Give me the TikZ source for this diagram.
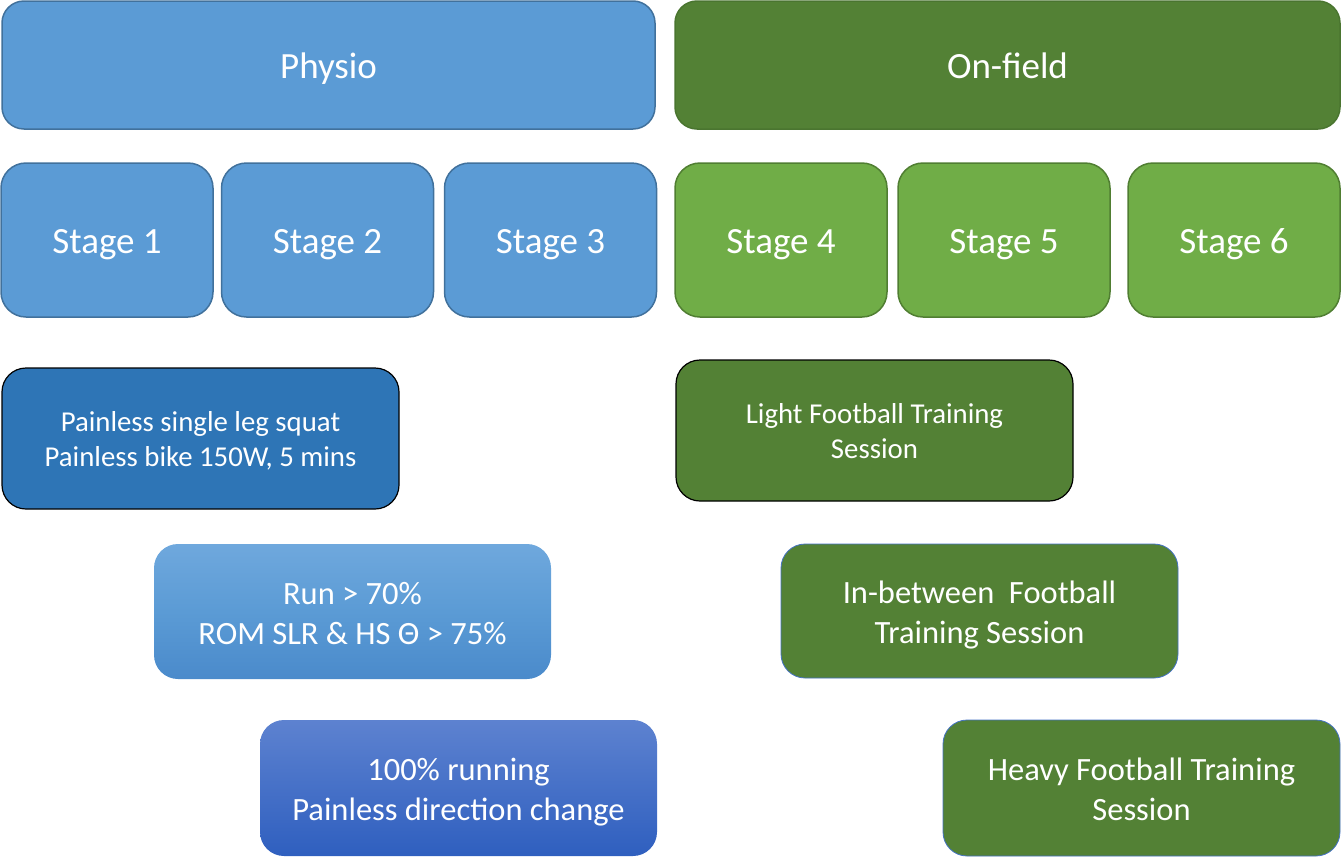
\documentclass[tikz,border=0pt]{standalone}
\usepackage{fontspec}
\setmainfont{Carlito}
\definecolor{physfill}{HTML}{5B9BD5}
\definecolor{physline}{HTML}{41719C}
\definecolor{darkgreen}{HTML}{538135}
\definecolor{darkgreenline}{HTML}{4A7530}
\definecolor{stgreen}{HTML}{70AD47}
\definecolor{stgreenline}{HTML}{507E32}
\definecolor{midblue}{HTML}{2E75B6}
\definecolor{runtop}{HTML}{6FA8DD}
\definecolor{runmid}{HTML}{5B9BD5}
\definecolor{runbot}{HTML}{4A8ACB}
\definecolor{hutop}{HTML}{5D82D0}
\definecolor{hubot}{HTML}{2F5FBF}
\definecolor{thinblue}{HTML}{4472C4}
\tikzset{
  box/.style={rectangle, rounded corners=22pt, text=white, inner sep=0pt, align=center},
  big/.style={font=\fontsize{37}{45}\selectfont, text height=27pt, text depth=0pt},
  small/.style={font=\fontsize{28.8}{35.5}\selectfont, text height=56pt, text depth=0pt},
  med/.style={font=\fontsize{32.5}{40}\selectfont, text height=65pt, text depth=0pt},
  header/.style={box, big, minimum height=128pt, line width=1.5pt},
  stagebox/.style={box, big, minimum width=212pt, minimum height=154pt, rounded corners=25pt, line width=1.5pt},
  crit/.style={box, minimum width=397pt, rounded corners=24pt},
}
\begin{document}
\begin{tikzpicture}[x=1pt,y=-1pt]
\useasboundingbox (0,0) rectangle (1341,857);
% headers
\node[header, fill=physfill, draw=physline, minimum width=653pt] (physio) at (328.5,65) {Physio};
\node[header, fill=darkgreen, draw=darkgreenline, minimum width=665pt] (onfield) at (1007.5,65) {On-field};
% stages
\node[stagebox, fill=physfill, draw=physline] (s1) at (107,240) {Stage 1};
\node[stagebox, fill=physfill, draw=physline] (s2) at (327.5,240) {Stage 2};
\node[stagebox, fill=physfill, draw=physline] (s3) at (550.5,240) {Stage 3};
\node[stagebox, fill=stgreen, draw=stgreenline] (s4) at (781,240) {Stage 4};
\node[stagebox, fill=stgreen, draw=stgreenline] (s5) at (1004,240) {Stage 5};
\node[stagebox, fill=stgreen, draw=stgreenline] (s6) at (1234,240) {Stage 6};
% physio criteria
\node[crit, small, fill=midblue, draw=black, line width=1.2pt, minimum height=141pt] (painless) at (200.5,438.5)
  {Painless single leg squat\\Painless bike 150W, 5 mins};
\node[crit, med, top color=runtop, bottom color=runbot, middle color=runmid, minimum height=135pt] (run) at (352.5,611.5)
  {Run > 70\%\\ROM SLR \& HS Θ > 75\%};
\node[crit, med, top color=hutop, bottom color=hubot, minimum height=136pt] (hundred) at (458.5,788)
  {100\% running\\Painless direction change};
% on-field criteria
\node[crit, small, fill=darkgreen, draw=black, line width=1.2pt, minimum height=141pt] (light) at (874.5,430.5)
  {Light Football Training\\Session};
\node[crit, med, fill=darkgreen, draw=thinblue, line width=0.8pt, minimum height=134pt] (inbetween) at (979.5,611)
  {In-between\ \ Football\\Training Session};
\node[crit, med, fill=darkgreen, draw=thinblue, line width=0.8pt, minimum height=136pt] (heavy) at (1141.5,788)
  {Heavy Football Training\\Session};
\end{tikzpicture}
\end{document}
